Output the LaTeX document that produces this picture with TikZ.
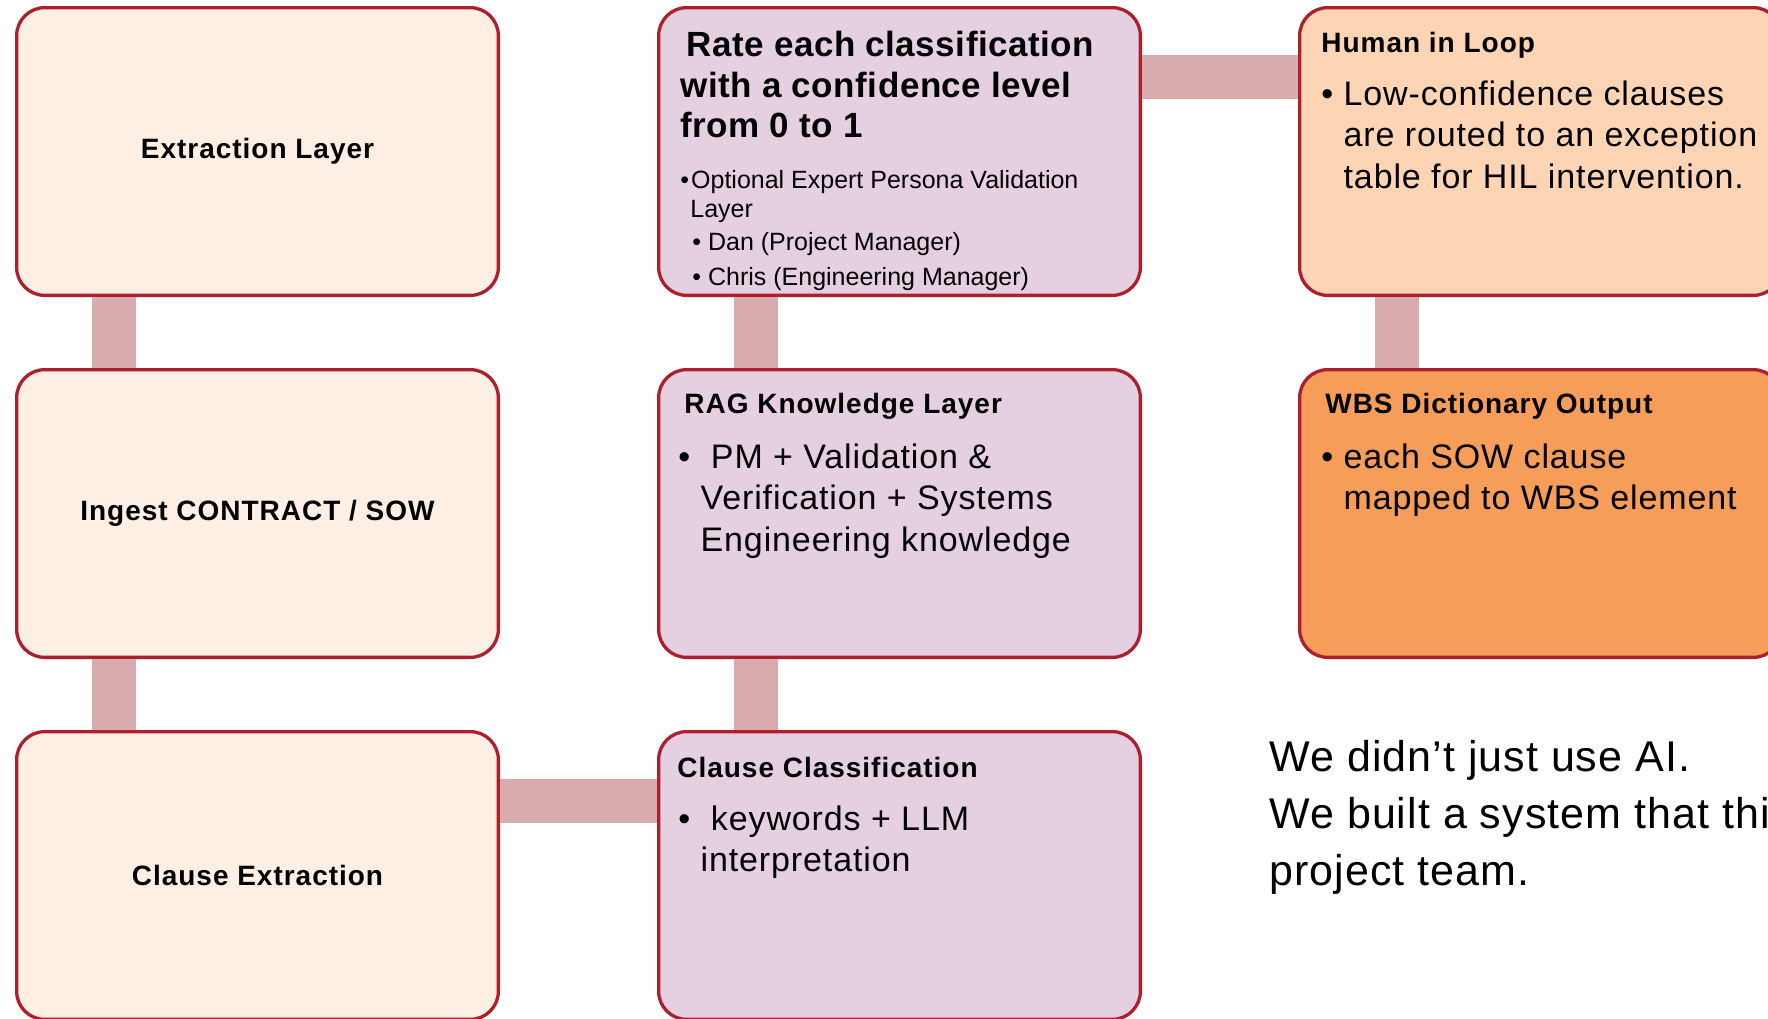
\documentclass[tikz,border=0pt]{standalone}
\usepackage{fontspec}
\setmainfont{Liberation Sans}
\usepackage{tikz}
\usetikzlibrary{positioning}

\definecolor{rimred}{HTML}{AD1F2C}
\definecolor{linkpink}{HTML}{D9ABAE}
\definecolor{peachfill}{HTML}{FDEFE4}
\definecolor{mauvefill}{HTML}{E5D0E2}
\definecolor{apricotfill}{HTML}{FDD4B4}
\definecolor{orangefill}{HTML}{F59D59}

\tikzset{
	stage/.style={draw=rimred, line width=1.65pt, rounded corners=14pt,
		minimum width=240.85pt, minimum height=143.85pt, inner sep=0pt,
		font=\bfseries\fontsize{14}{17}\selectfont\addfontfeatures{LetterSpace=3.5}},
	link/.style={draw=linkpink, line width=22pt},
	heading/.style={anchor=north west, inner sep=0pt,
		font=\bfseries\fontsize{14}{17}\selectfont\addfontfeatures{LetterSpace=3.5}},
	bullets/.style={anchor=north west, inner sep=0pt, align=left,
		font=\fontsize{17}{20.75}\selectfont\addfontfeatures{LetterSpace=2.6}},
}

\begin{document}
\begin{tikzpicture}[x=0.5pt, y=-0.5pt]
		% page
		\fill[white] (0,0) rectangle (1768,1018);
		\useasboundingbox (0,0) rectangle (1768,1018);
		\clip (0,0) rectangle (1768,1018);
		% left column
		\node[stage, fill=peachfill, anchor=north west] (extract) at (15,6) {Extraction Layer};
		\node[stage, fill=peachfill, below=35.5pt of extract] (ingest) {Ingest CONTRACT / SOW};
		\node[stage, fill=peachfill, below=35.5pt of ingest] (clext) {Clause Extraction};
		% middle column
		\node[stage, fill=mauvefill, right=78.5pt of clext] (clclass) {};
		\node[stage, fill=mauvefill, above=35.5pt of clclass] (rag) {};
		\node[stage, fill=mauvefill, above=35.5pt of rag] (rate) {};
		% right column
		\node[stage, fill=apricotfill, right=78pt of rate] (hil) {};
		\node[stage, fill=orangefill, below=35.5pt of hil] (wbs) {};
		% links
		\draw[link] ([xshift=49.5pt]extract.south west) -- ([xshift=49.5pt]ingest.north west);
		\draw[link] ([xshift=49.5pt]ingest.south west) -- ([xshift=49.5pt]clext.north west);
		\draw[link] ([yshift=-35.5pt]clext.north east) -- ([yshift=-35.5pt]clclass.north west);
		\draw[link] ([xshift=49.5pt]clclass.north west) -- ([xshift=49.5pt]rag.south west);
		\draw[link] ([xshift=49.5pt]rag.north west) -- ([xshift=49.5pt]rate.south west);
		\draw[link] ([yshift=-35.5pt]rate.north east) -- ([yshift=-35.5pt]hil.north west);
		\draw[link] ([xshift=49.5pt]hil.south west) -- ([xshift=49.5pt]wbs.north west);
		% rate box
		\node[bullets, font=\bfseries\fontsize{17.5}{20.25}\selectfont\addfontfeatures{LetterSpace=1.5}] (ratetxt) at (680,31)
			{\hspace*{3pt}Rate each classification\\with a confidence level\\from 0 to 1};
		\node[bullets, font=\fontsize{12.5}{14.5}\selectfont] (persona) at (680,170)
			{\textbullet\hspace{1pt}Optional Expert Persona Validation\\
			 \hspace*{5pt}Layer\\[2pt]
			 \hspace*{6pt}\textbullet\ Dan (Project Manager)\\[3pt]
			 \hspace*{6pt}\textbullet\ Chris (Engineering Manager)};
		% rag box
		\node[heading] (ragtitle) at (684,393) {RAG Knowledge Layer};
		\node[bullets] (ragtxt) at (678,443)
			{\textbullet\ \ PM + Validation \&\\
			 \hphantom{\textbullet\ }Verification + Systems\\
			 \hphantom{\textbullet\ }Engineering knowledge};
		% classification box
		\node[heading] (classtitle) at (677,757) {Clause Classification};
		\node[bullets] (classtxt) at (678,805)
			{\textbullet\ \ keywords + LLM\\
			 \hphantom{\textbullet\ }interpretation};
		% human in loop
		\node[heading] (hiltitle) at (1321,32) {Human in Loop};
		\node[bullets] (hiltxt) at (1321,80)
			{\textbullet\ Low-confidence clauses\\
			 \hphantom{\textbullet\ }are routed to an exception\\
			 \hphantom{\textbullet\ }table for HIL intervention.};
		% output
		\node[heading] (wbstitle) at (1325,393) {WBS Dictionary Output};
		\node[bullets] (wbstxt) at (1321,443)
			{\textbullet\ each SOW clause\\
			 \hphantom{\textbullet\ }mapped to WBS element};
		% closing note
		\node[bullets, font=\fontsize{21.5}{28.5}\selectfont\addfontfeatures{LetterSpace=2.4}] (note) at (1269,740)
			{We didn’t just use AI.\\We built a system that thinks like a\\project team.};
\end{tikzpicture}
\end{document}
